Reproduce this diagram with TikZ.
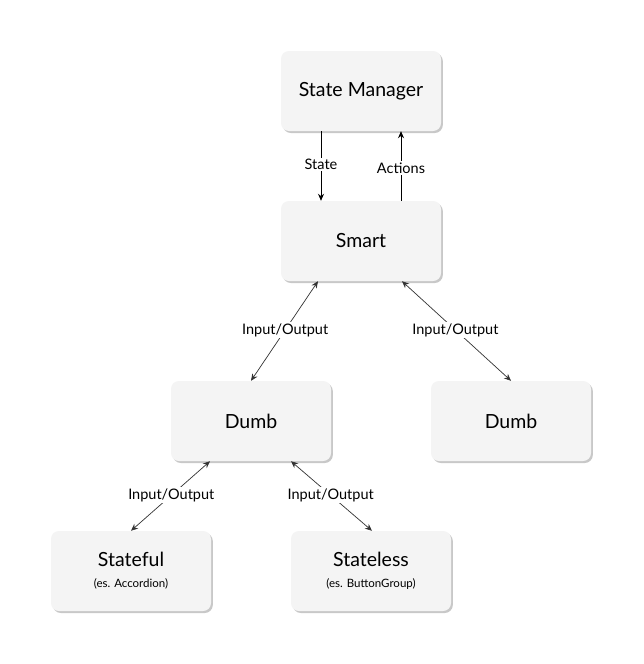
\documentclass[tikz,border=0pt]{standalone}
\usepackage{fontspec}
\setmainfont{Lato}
\usetikzlibrary{arrows.meta}
\definecolor{boxfill}{HTML}{F4F4F4}
\definecolor{boxshadow}{HTML}{C8C8C8}
\definecolor{linegray}{HTML}{333333}
\tikzset{
  box/.style={minimum width=160pt, minimum height=80pt, rounded corners=8pt, fill=boxfill, align=center, inner sep=0pt,
    font=\fontsize{19.5}{23}\selectfont},
  shadowbox/.style={minimum width=160pt, minimum height=80pt, rounded corners=8pt, fill=boxshadow, inner sep=0pt},
  conn/.style={draw=black, line width=0.8pt, -{Stealth[length=7pt,width=6pt]}},
  biconn/.style={draw=linegray, line width=0.7pt, {Stealth[length=7pt,width=6pt]}-{Stealth[length=7pt,width=6pt]}},
  lbl/.style={fill=white, inner sep=1.5pt, font=\fontsize{14.5}{17}\selectfont, text=black}
}
\newcommand{\subtxt}[1]{{\fontsize{11.5}{13}\selectfont #1}}
\begin{document}
\begin{tikzpicture}[x=1pt,y=-1pt]
\useasboundingbox[fill=white] (0,0) rectangle (643,664);
% shadows
\foreach \cx/\cy in {361/91, 361/241, 251/421, 511/421, 131/571, 371/571}{
  \node[shadowbox] at (\cx+1.8,\cy+2) {};
}
\node[box] (sm) at (361,91) {State Manager};
\node[box] (smart) at (361,241) {Smart};
\node[box] (dl) at (251,421) {Dumb};
\node[box] (dr) at (511,421) {Dumb};
\node[box] (sf) at (131,571) {Stateful\\[-2pt]\subtxt{(es. Accordion)}};
\node[box] (sl) at (371,571) {Stateless\\[-2pt]\subtxt{(es. ButtonGroup)}};
% vertical connectors
\coordinate (a1) at ([xshift=-40pt]sm.south);
\coordinate (a2) at ([xshift=-40pt]smart.north);
\coordinate (b1) at ([xshift=40pt]smart.north);
\coordinate (b2) at ([xshift=40pt]sm.south);
\draw[conn] (a1) -- node[lbl, pos=0.48] {State} (a2);
\draw[conn] (b1) -- node[lbl, pos=0.47] {Actions} (b2);
% diagonal connectors
\coordinate (c1) at ([xshift=-43pt]smart.south);
\coordinate (c2) at ([xshift=0pt]dl.north);
\draw[biconn] (c1) -- node[lbl, pos=0.49] {Input/Output} (c2);
\coordinate (d1) at ([xshift=41pt]smart.south);
\coordinate (d2) at ([xshift=0pt]dr.north);
\draw[biconn] (d1) -- node[lbl, pos=0.49] {Input/Output} (d2);
\coordinate (e1) at ([xshift=-41pt]dl.south);
\coordinate (e2) at ([xshift=0pt]sf.north);
\draw[biconn] (e1) -- node[lbl, pos=0.49] {Input/Output} (e2);
\coordinate (f1) at ([xshift=40pt]dl.south);
\coordinate (f2) at ([xshift=1pt]sl.north);
\draw[biconn] (f1) -- node[lbl, pos=0.49] {Input/Output} (f2);
\end{tikzpicture}
\end{document}
